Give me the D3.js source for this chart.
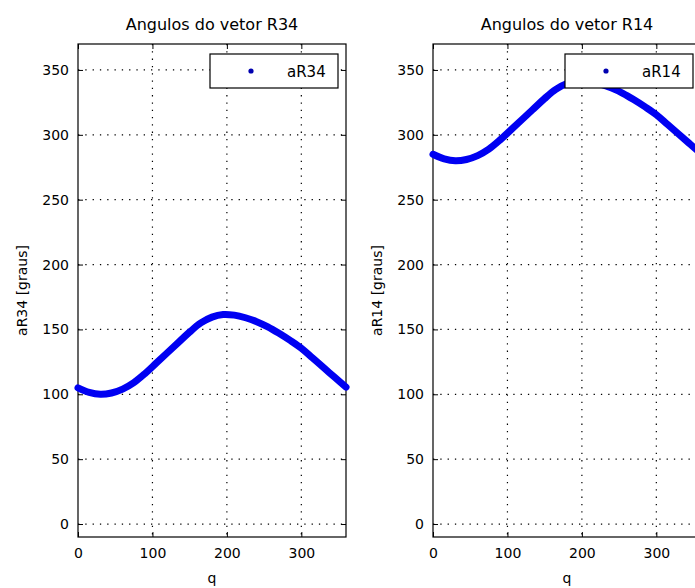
<!DOCTYPE html>
<html>
<head>
<meta charset="utf-8">
<script src="https://cdn.jsdelivr.net/npm/d3@7"></script>
<style>
  body { margin: 0; background: #fff; }
  text { font-family: "DejaVu Sans", sans-serif; fill: #000; }
</style>
</head>
<body>
<div id="fig"></div>
<script>
// angulos dos vetores R34 e R14 em funcao de q

var qVals = [0, 15, 30, 45, 60, 75, 90, 105, 120, 135, 150, 165, 180,
    195, 210, 225, 240, 255, 270, 285, 300, 315, 330, 345, 360];
var aR34 = [105, 101.5, 100, 101, 104, 109, 116, 124, 132, 140, 148, 155, 159.5,
    161.5, 161, 159, 156, 152, 147, 141.5, 135.5, 128, 120.5, 113, 105.5];
var aR14 = [285, 281.5, 280, 281, 284, 289, 296, 304, 312, 320, 328, 335, 339.5,
    341.5, 341, 339, 336, 332, 327, 321.5, 315.5, 308, 300.5, 293, 285.5];
var xTicks = [0, 100, 200, 300];
var yTicks = [0, 50, 100, 150, 200, 250, 300, 350];

var width = 695;
var height = 588;

var svg = d3
    .select("#fig")
    .append("svg")
    .attr("width", width)
    .attr("height", height);

var plotW = 268;
var plotH = 493;
var plotTop = 44;

function drawPanel(left, vals, name) {
    var xScale = d3.scaleLinear().domain([0, 360]).range([0, plotW]);
    var yScale = d3.scaleLinear().domain([-10, 370]).range([plotH, 0]);

    var g = svg.append("g")
        .attr("transform", "translate(" + left + "," + plotTop + ")");

    g.append("rect")
        .attr("width", plotW)
        .attr("height", plotH)
        .attr("fill", "#fff");

    // grid pontilhado
    g.selectAll(".gx")
        .data(xTicks.filter(function(t) { return t > 0; }))
        .enter()
        .append("line")
        .attr("x1", function(d) { return xScale(d); })
        .attr("x2", function(d) { return xScale(d); })
        .attr("y1", 0)
        .attr("y2", plotH)
        .attr("stroke", "#000")
        .attr("stroke-width", 1.2)
        .attr("stroke-dasharray", "1.3,6");

    g.selectAll(".gy")
        .data(yTicks)
        .enter()
        .append("line")
        .attr("x1", 0)
        .attr("x2", plotW)
        .attr("y1", function(d) { return yScale(d); })
        .attr("y2", function(d) { return yScale(d); })
        .attr("stroke", "#000")
        .attr("stroke-width", 1.2)
        .attr("stroke-dasharray", "1.3,6");

    // eixos com ticks para dentro
    var xAxis = d3.axisBottom(xScale).tickValues(xTicks).tickSize(-5).tickPadding(11);
    var yAxis = d3.axisLeft(yScale).tickValues(yTicks).tickSize(-5).tickPadding(9);

    var gx = g.append("g").attr("transform", "translate(0," + plotH + ")").call(xAxis);
    var gy = g.append("g").call(yAxis);
    g.append("g").call(d3.axisTop(xScale).tickValues(xTicks).tickSize(-5).tickFormat(""));
    g.append("g").attr("transform", "translate(" + plotW + ",0)")
        .call(d3.axisRight(yScale).tickValues(yTicks).tickSize(-5).tickFormat(""));

    g.selectAll(".domain").remove();
    g.selectAll(".tick line").attr("stroke", "#000");
    gx.selectAll("text").style("font-size", "14px").attr("fill", "#000");
    gy.selectAll("text").style("font-size", "14px").attr("fill", "#000");

    g.append("rect")
        .attr("width", plotW)
        .attr("height", plotH)
        .attr("fill", "none")
        .attr("stroke", "#000")
        .attr("stroke-width", 1.2);

    // curva
    var line = d3.line()
        .x(function(d, i) { return xScale(qVals[i]); })
        .y(function(d) { return yScale(d); })
        .curve(d3.curveCatmullRom);

    g.append("path")
        .datum(vals)
        .attr("d", line)
        .attr("fill", "none")
        .attr("stroke", "#0000f2")
        .attr("stroke-width", 7)
        .attr("stroke-linecap", "round");

    // titulo e rotulos
    svg.append("text")
        .attr("x", left + plotW / 2)
        .attr("y", 30)
        .attr("text-anchor", "middle")
        .style("font-size", "16px")
        .text("Angulos do vetor " + name.slice(1));

    svg.append("text")
        .attr("x", left + plotW / 2)
        .attr("y", 583)
        .attr("text-anchor", "middle")
        .style("font-size", "14px")
        .text("q");

    svg.append("text")
        .attr("transform", "translate(" + (left - 51) + "," + (plotTop + plotH / 2) + ")rotate(-90)")
        .attr("text-anchor", "middle")
        .style("font-size", "14px")
        .text(name + " [graus]");

    // legenda
    var leg = g.append("g").attr("transform", "translate(" + (plotW - 136) + ",10)");
    leg.append("rect")
        .attr("width", 128)
        .attr("height", 34)
        .attr("fill", "#fff")
        .attr("stroke", "#000")
        .attr("stroke-width", 1.2);
    leg.append("circle")
        .attr("cx", 41)
        .attr("cy", 17)
        .attr("r", 2.6)
        .attr("fill", "#0000b0");
    leg.append("text")
        .attr("x", 77)
        .attr("y", 23)
        .style("font-size", "15px")
        .text(name);
}

drawPanel(78, aR34, "aR34");
drawPanel(433, aR14, "aR14");
</script>
</body>
</html>
